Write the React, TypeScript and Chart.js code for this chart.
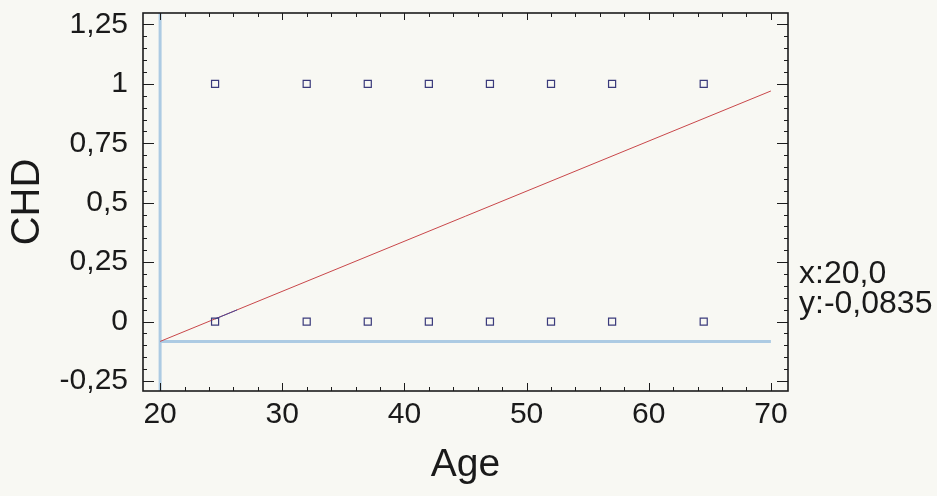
import React, { useEffect, useRef } from 'react';
import { Chart, registerables } from 'chart.js';

Chart.register(...registerables);

// ---- data ----
const ageGroups = [24.5, 32, 37, 42, 47, 52, 57, 64.5];
const chdYes = [1, 1, 1, 1, 1, 1, 1, 1];
const chdNo = [0, 0, 0, 0, 0, 0, 0, 0];
const fitAges = [20, 70];
const fitValues = [-0.0835, 0.97];
const highlightAges = [24.5, 26.3];
const highlightValues = [0.011, 0.049];
const cursorX = 20.0;
const cursorY = -0.0835;
const cursorLabels = ['x:20,0', 'y:-0,0835'];
const xTicks = [20, 30, 40, 50, 60, 70];
const yTicks = [-0.25, 0, 0.25, 0.5, 0.75, 1, 1.25];
const xRange = [18.6, 71.4];
const yRange = [-0.292, 1.298];

const FONT = "'Liberation Sans', Arial, Helvetica, sans-serif";
const BG = '#f8f8f3';

const framePlugin = {
  id: 'frameTicks',
  afterDraw(chart: any) {
    const { ctx, chartArea: a, scales } = chart;
    const xs = scales.x;
    const ys = scales.y;
    ctx.save();
    ctx.strokeStyle = '#1c1c1c';
    ctx.lineWidth = 1;
    ctx.beginPath();
    for (let v = 20; v <= 70.001; v += 2) {
      const px = Math.round(xs.getPixelForValue(v)) + 0.5;
      const major = Math.abs(v % 10) < 0.001;
      const lb = major ? 8 : 4;
      const lt = major ? 7 : 4;
      ctx.moveTo(px, a.bottom);
      ctx.lineTo(px, a.bottom - lb);
      ctx.moveTo(px, a.top);
      ctx.lineTo(px, a.top + lt);
    }
    for (let i = -5; i <= 25; i++) {
      const v = i * 0.05;
      const py = Math.round(ys.getPixelForValue(v)) + 0.5;
      if (py < a.top || py > a.bottom) continue;
      const major = i % 5 === 0;
      const l = major ? 11 : 4;
      ctx.moveTo(a.left, py);
      ctx.lineTo(a.left + l, py);
      ctx.moveTo(a.right, py);
      ctx.lineTo(a.right - l, py);
    }
    ctx.stroke();
    ctx.lineWidth = 1.6;
    ctx.strokeRect(a.left, a.top, a.right - a.left, a.bottom - a.top);
    ctx.fillStyle = '#1a1a1a';
    ctx.font = `32px ${FONT}`;
    ctx.textAlign = 'left';
    ctx.textBaseline = 'alphabetic';
    ctx.fillText(cursorLabels[0], a.right + 11, 283);
    ctx.fillText(cursorLabels[1], a.right + 11, 313);
    ctx.restore();
  },
};

const bgPlugin = {
  id: 'bg',
  beforeDraw(chart: any) {
    const { ctx, width, height } = chart;
    ctx.save();
    ctx.fillStyle = BG;
    ctx.fillRect(0, 0, width, height);
    ctx.restore();
  },
};

export default function App() {
  const ref = useRef<HTMLCanvasElement | null>(null);

  useEffect(() => {
    if (!ref.current) return;
    const chart = new Chart(ref.current, {
      type: 'scatter',
      data: {
        datasets: [
          {
            label: 'CHD = 1',
            data: ageGroups.map((x, i) => ({ x, y: chdYes[i] })),
            pointStyle: 'rect',
            pointRadius: 5,
            borderColor: '#3b3b7c',
            backgroundColor: 'rgba(0,0,0,0)',
            borderWidth: 1.2,
            order: 0,
          },
          {
            label: 'CHD = 0',
            data: ageGroups.map((x, i) => ({ x, y: chdNo[i] })),
            pointStyle: 'rect',
            pointRadius: 5,
            borderColor: '#3b3b7c',
            backgroundColor: 'rgba(0,0,0,0)',
            borderWidth: 1.2,
            order: 0,
          },
          {
            label: 'highlight',
            data: highlightAges.map((x, i) => ({ x, y: highlightValues[i] })),
            showLine: true,
            pointRadius: 0,
            borderColor: '#4a4a9a',
            borderWidth: 1,
            order: 1,
          },
          {
            label: 'Fit',
            data: fitAges.map((x, i) => ({ x, y: fitValues[i] })),
            showLine: true,
            pointRadius: 0,
            borderColor: '#c9474a',
            borderWidth: 1,
            order: 2,
          },
          {
            label: 'cursor v',
            data: [
              { x: cursorX, y: yRange[0] },
              { x: cursorX, y: yRange[1] },
            ],
            showLine: true,
            pointRadius: 0,
            borderColor: '#adcbe3',
            borderWidth: 3,
            order: 3,
          },
          {
            label: 'cursor h',
            data: [
              { x: cursorX, y: cursorY },
              { x: fitAges[1], y: cursorY },
            ],
            showLine: true,
            pointRadius: 0,
            borderColor: '#adcbe3',
            borderWidth: 3,
            order: 3,
          },
        ],
      },
      options: {
        animation: false,
        responsive: false,
        maintainAspectRatio: false,
        layout: { padding: { left: 0, right: 149, top: 13, bottom: 0 } },
        plugins: {
          legend: { display: false },
          tooltip: { enabled: false },
        },
        scales: {
          x: {
            type: 'linear',
            min: xRange[0],
            max: xRange[1],
            grid: { display: false, drawTicks: false },
            border: { display: false },
            afterBuildTicks: (s: any) => {
              s.ticks = xTicks.map((v) => ({ value: v }));
            },
            afterFit: (s: any) => {
              s.height = 105;
              s.paddingLeft = 0;
              s.paddingRight = 0;
            },
            ticks: {
              color: '#1a1a1a',
              font: { family: FONT, size: 30 },
              padding: 6,
              maxRotation: 0,
              autoSkip: false,
              callback: (v: any) => String(v),
            },
            title: {
              display: true,
              text: 'Age',
              color: '#1a1a1a',
              font: { family: FONT, size: 39 },
              padding: { top: 0, bottom: 7 },
            },
          },
          y: {
            type: 'linear',
            min: yRange[0],
            max: yRange[1],
            grid: { display: false, drawTicks: false },
            border: { display: false },
            afterBuildTicks: (s: any) => {
              s.ticks = yTicks.map((v) => ({ value: v }));
            },
            afterFit: (s: any) => {
              s.width = 143;
              s.paddingTop = 0;
              s.paddingBottom = 0;
            },
            ticks: {
              color: '#1a1a1a',
              font: { family: FONT, size: 30 },
              padding: 15,
              autoSkip: false,
              callback: (v: any) => String(v).replace('.', ','),
            },
            title: {
              display: true,
              text: 'CHD',
              color: '#1a1a1a',
              font: { family: FONT, size: 40 },
              padding: { top: 4, bottom: 0 },
            },
          },
        },
      },
      plugins: [bgPlugin, framePlugin],
    });
    return () => chart.destroy();
  }, []);

  return (
    <div style={{ position: 'absolute', left: 0, top: 0, width: 937, height: 496, background: BG }}>
      <canvas ref={ref} width={937} height={496} style={{ width: 937, height: 496, display: 'block' }} />
    </div>
  );
}
